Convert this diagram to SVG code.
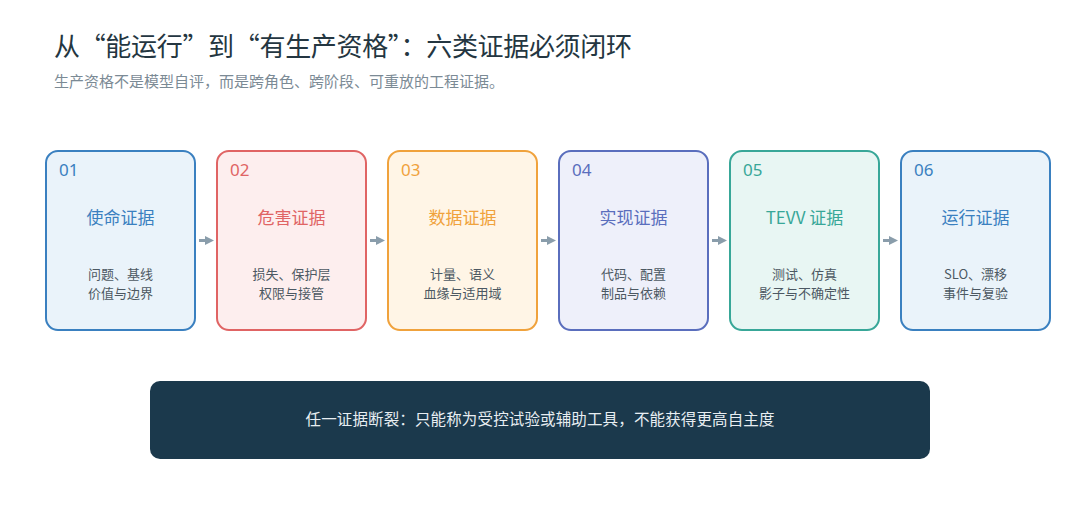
<svg xmlns="http://www.w3.org/2000/svg" width="1080" height="516" viewBox="0 0 1080 516">
<defs>
<style>
text{font-family:"Noto Sans CJK SC","Noto Sans",sans-serif}
.title{font-size:26px;fill:#243641}
.sub{font-size:15px;fill:#7b8a95}
.box{stroke-width:2}
.num{font-size:17px;font-family:"Noto Sans","Noto Sans CJK SC",sans-serif}
.name{font-size:17px;text-anchor:middle}
.desc{font-size:13px;fill:#4c5862;text-anchor:middle}
.conn{stroke:#8a9dab;stroke-width:3;fill:none}
.banner-text{font-size:15.5px;fill:#e8eef2;text-anchor:middle}
</style>
<marker id="ah" viewBox="0 0 10 10" refX="0" refY="5" markerWidth="3" markerHeight="3.6" orient="auto" markerUnits="strokeWidth">
<path d="M0,0 L10,5 L0,10 z" fill="#8a9dab"/>
</marker>
</defs>
<rect width="1080" height="516" fill="#ffffff"/>
<text class="title" x="54" y="56" textLength="578" lengthAdjust="spacing">从“能运行”到“有生产资格”：六类证据必须闭环</text>
<text class="sub" x="54" y="87" textLength="450" lengthAdjust="spacing">生产资格不是模型自评，而是跨角色、跨阶段、可重放的工程证据。</text>

<g id="node1">
<rect class="box" x="46" y="151" width="149" height="179" rx="12" fill="#eaf3fa" stroke="#3a80c0"/>
<text class="num" x="59" y="176" fill="#3a80c0">01</text>
<text class="name" x="120.5" y="224" fill="#3a80c0">使命证据</text>
<text class="desc" x="120.5" y="279">问题、基线</text>
<text class="desc" x="120.5" y="298">价值与边界</text>
</g>
<g id="node2">
<rect class="box" x="217" y="151" width="149" height="179" rx="12" fill="#fdeeee" stroke="#e06464"/>
<text class="num" x="230" y="176" fill="#e06464">02</text>
<text class="name" x="291.5" y="224" fill="#e06464">危害证据</text>
<text class="desc" x="291.5" y="279">损失、保护层</text>
<text class="desc" x="291.5" y="298">权限与接管</text>
</g>
<g id="node3">
<rect class="box" x="388" y="151" width="149" height="179" rx="12" fill="#fff5e6" stroke="#f0a23c"/>
<text class="num" x="401" y="176" fill="#f0a23c">03</text>
<text class="name" x="462.5" y="224" fill="#f0a23c">数据证据</text>
<text class="desc" x="462.5" y="279">计量、语义</text>
<text class="desc" x="462.5" y="298">血缘与适用域</text>
</g>
<g id="node4">
<rect class="box" x="559" y="151" width="149" height="179" rx="12" fill="#eef0fa" stroke="#5a6ebd"/>
<text class="num" x="572" y="176" fill="#5a6ebd">04</text>
<text class="name" x="633.5" y="224" fill="#5a6ebd">实现证据</text>
<text class="desc" x="633.5" y="279">代码、配置</text>
<text class="desc" x="633.5" y="298">制品与依赖</text>
</g>
<g id="node5">
<rect class="box" x="730" y="151" width="149" height="179" rx="12" fill="#e8f6f3" stroke="#38a798"/>
<text class="num" x="743" y="176" fill="#38a798">05</text>
<text class="name" x="804.5" y="224" fill="#38a798">TEVV 证据</text>
<text class="desc" x="804.5" y="279">测试、仿真</text>
<text class="desc" x="804.5" y="298">影子与不确定性</text>
</g>
<g id="node6">
<rect class="box" x="901" y="151" width="149" height="179" rx="12" fill="#eaf3fa" stroke="#3a80c0"/>
<text class="num" x="914" y="176" fill="#3a80c0">06</text>
<text class="name" x="975.5" y="224" fill="#3a80c0">运行证据</text>
<text class="desc" x="975.5" y="279">SLO、漂移</text>
<text class="desc" x="975.5" y="298">事件与复验</text>
</g>

<g id="connectors">
<line class="conn" x1="199" y1="240.5" x2="205" y2="240.5" marker-end="url(#ah)"/>
<line class="conn" x1="370" y1="240.5" x2="376" y2="240.5" marker-end="url(#ah)"/>
<line class="conn" x1="541" y1="240.5" x2="547" y2="240.5" marker-end="url(#ah)"/>
<line class="conn" x1="712" y1="240.5" x2="718" y2="240.5" marker-end="url(#ah)"/>
<line class="conn" x1="883" y1="240.5" x2="889" y2="240.5" marker-end="url(#ah)"/>
</g>

<g id="banner">
<rect x="150" y="381" width="780" height="78" rx="10" fill="#1b394c"/>
<text class="banner-text" x="540" y="425" textLength="469" lengthAdjust="spacing">任一证据断裂：只能称为受控试验或辅助工具，不能获得更高自主度</text>
</g>
</svg>
